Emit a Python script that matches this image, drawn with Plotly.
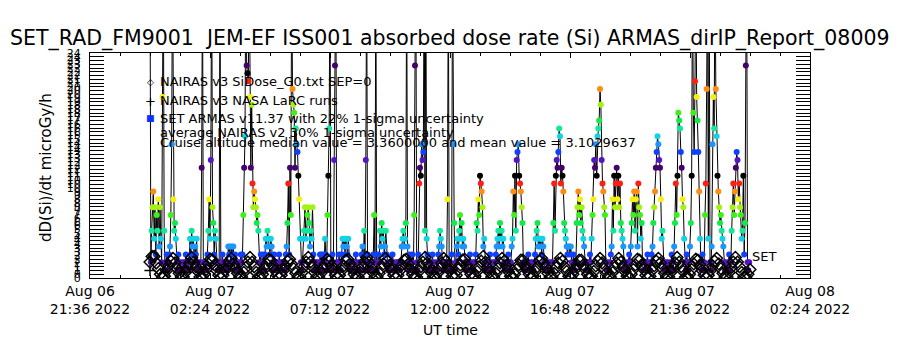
import pandas as pd
import plotly.graph_objects as go

# ---------------- data ----------------
series_start = "2022-08-07 00:00"

# SET ARMAS dose-rate readings in counts of 0.84 microGy/h, one every 2 min (30 per hour)
armas_step_min = 2
dose_quantum = 0.84
armas_counts = [
    40, 2, 6, 9, 11, 5, 9, 3, 8, 6, 10, 4, 9, 5, 2, 23, 40, 6, 1, 2, 3, 1, 2, 3, 4, 8, 17, 40, 10, 6,      # 00h
    7, 5, 2, 1, 3, 2, 1, 2, 1, 1, 2, 1, 2, 3, 1, 2, 1, 2, 5, 3, 6, 4, 5, 2, 4, 3, 5, 1, 2, 1,              # 01h
    1, 2, 14, 40, 1, 2, 1, 2, 1, 3, 6, 10, 5, 15, 40, 9, 7, 3, 6, 5, 2, 1, 1, 2, 40, 1, 2, 3, 1, 2,        # 02h
    1, 2, 1, 2, 4, 3, 4, 2, 4, 3, 4, 1, 3, 2, 1, 2, 1, 2, 1, 3, 2, 3, 8, 14, 18, 40, 27, 26, 25, 40,       # 03h
    23, 14, 22, 12, 9, 11, 10, 9, 7, 8, 6, 2, 1, 3, 1, 2, 3, 1, 3, 5, 4, 6, 5, 4, 3, 5, 4, 2, 1, 3,        # 04h
    1, 2, 1, 2, 1, 3, 2, 1, 2, 1, 1, 1, 2, 3, 4, 7, 12, 3, 14, 8, 40, 24, 22, 21, 14, 19, 17, 16, 13, 10,  # 05h
    5, 2, 1, 2, 5, 6, 9, 5, 6, 8, 9, 7, 4, 6, 5, 9, 3, 1, 2, 1, 2, 1, 2, 1, 3, 2, 3, 1, 3, 2,              # 06h
    5, 3, 1, 8, 13, 19, 40, 2, 1, 3, 1, 15, 27, 40, 2, 1, 2, 3, 2, 1, 3, 5, 4, 5, 3, 5, 4, 3, 5, 2,        # 07h
    1, 2, 1, 1, 2, 1, 2, 3, 1, 2, 1, 1, 2, 2, 3, 4, 1, 6, 2, 15, 40, 3, 1, 2, 1, 2, 1, 2, 3, 8,            # 08h
    2, 40, 1, 2, 3, 2, 6, 4, 7, 5, 6, 3, 4, 6, 3, 2, 1, 1, 2, 1, 2, 3, 2, 1, 1, 2, 1, 2, 1, 1,             # 09h
    1, 2, 4, 5, 6, 4, 5, 7, 40, 4, 2, 1, 3, 1, 2, 3, 1, 8, 27, 40, 2, 1, 3, 12, 14, 13, 17, 15, 16, 40,    # 10h
    6, 40, 5, 3, 1, 2, 1, 1, 2, 3, 1, 2, 1, 1, 2, 1, 3, 4, 6, 5, 4, 2, 1, 1, 2, 1, 2, 10, 40, 1,           # 11h
    2, 1, 3, 40, 17, 7, 1, 2, 4, 5, 3, 6, 8, 5, 7, 4, 5, 4, 2, 1, 1, 2, 1, 2, 3, 1, 2, 1, 1, 2,            # 12h
    2, 3, 7, 6, 10, 8, 13, 12, 11, 9, 4, 5, 2, 1, 1, 2, 1, 2, 3, 1, 2, 1, 1, 2, 2, 3, 4, 5, 6, 4,          # 13h
    7, 5, 6, 4, 5, 2, 1, 1, 2, 1, 3, 2, 1, 2, 4, 5, 11, 8, 13, 6, 15, 16, 17, 13, 12, 11, 9, 7, 2, 1,      # 14h
    1, 2, 1, 2, 3, 1, 2, 1, 1, 2, 1, 2, 3, 5, 6, 7, 4, 5, 4, 5, 3, 5, 4, 2, 1, 1, 2, 1, 2, 1,              # 15h
    1, 2, 1, 2, 7, 12, 6, 13, 15, 14, 16, 19, 18, 12, 14, 13, 11, 7, 6, 5, 4, 3, 4, 4, 3, 4, 2, 1, 3, 2,   # 16h
    1, 2, 7, 9, 11, 8, 10, 7, 9, 6, 5, 4, 2, 1, 1, 2, 1, 2, 3, 2, 5, 8, 10, 15, 14, 17, 13, 18, 19, 20,    # 17h
    24, 22, 15, 12, 11, 9, 8, 2, 1, 2, 1, 1, 2, 3, 4, 10, 6, 13, 9, 12, 14, 10, 13, 9, 12, 7, 6, 5, 4, 2,  # 18h
    1, 1, 2, 1, 2, 3, 2, 4, 7, 10, 8, 11, 6, 10, 11, 4, 12, 9, 8, 5, 7, 2, 1, 1, 2, 1, 2, 3, 1, 2,         # 19h
    1, 2, 3, 4, 7, 9, 11, 14, 16, 18, 17, 15, 14, 10, 5, 6, 2, 1, 1, 2, 1, 2, 1, 1, 2, 1, 3, 2, 1, 4,      # 20h
    7, 12, 8, 13, 21, 20, 19, 16, 14, 10, 9, 5, 2, 1, 3, 2, 1, 2, 4, 7, 13, 40, 21, 16, 25, 40, 23, 20, 16, 11,  # 21h
    5, 2, 1, 3, 1, 2, 8, 12, 24, 40, 5, 40, 2, 1, 4, 17, 23, 19, 40, 24, 18, 13, 11, 9, 7, 8, 6, 5, 4, 2,  # 22h
    1, 2, 1, 1, 2, 3, 1, 2, 6, 9, 12, 8, 11, 14, 16, 15, 10, 12, 9, 8, 5, 6, 13, 3, 7, 27, 40, 2, 1, 2,    # 23h
]

# NAIRAS v3 model dose rate (microGy/h), one every 5 min (12 per hour)
nairas_step_min = 5
nairas_dose = [
    1.7, 2.3, 2.3, 1.6, 1.0, 0.4, 0.1, 0.2, 0.8, 1.3, 1.8, 2.1,
    1.6, 1.0, 0.5, 0.1, 0.1, 0.6, 1.1, 1.6, 2.2, 1.7, 1.2, 0.7,
    0.1, 0.1, 0.4, 0.9, 1.5, 2.0, 1.9, 1.4, 0.8, 0.3, 0.1, 0.3,
    0.8, 1.3, 1.8, 2.1, 1.5, 1.0, 0.5, 0.1, 0.1, 0.6, 1.1, 1.7,
    2.2, 1.7, 1.2, 0.6, 0.1, 0.1, 0.4, 1.0, 1.5, 2.0, 1.9, 1.3,
    0.8, 0.3, 0.1, 0.3, 0.8, 1.3, 1.8, 2.0, 1.5, 1.0, 0.5, 0.1,
    0.1, 0.6, 1.2, 1.7, 2.2, 1.7, 1.2, 0.6, 0.1, 0.1, 0.5, 1.0,
    1.5, 2.0, 1.8, 1.3, 0.8, 0.3, 0.1, 0.3, 0.8, 1.3, 1.9, 2.0,
    1.5, 1.0, 0.4, 0.1, 0.1, 0.6, 1.2, 1.7, 2.2, 1.7, 1.1, 0.6,
    0.1, 0.1, 0.5, 1.0, 1.5, 2.1, 1.8, 1.3, 0.8, 0.3, 0.1, 0.3,
    0.8, 1.4, 1.9, 2.0, 1.5, 0.9, 0.4, 0.1, 0.1, 0.7, 1.2, 1.7,
    2.2, 1.6, 1.1, 0.6, 0.1, 0.1, 0.5, 1.0, 1.6, 2.1, 1.8, 1.3,
    0.8, 0.2, 0.1, 0.3, 0.9, 1.4, 1.9, 2.0, 1.4, 0.9, 0.4, 0.1,
    0.2, 0.7, 1.2, 1.8, 2.3, 1.7, 1.1, 0.6, 0.1, 0.1, 0.5, 1.0,
    1.6, 2.1, 1.8, 1.3, 0.7, 0.2, 0.1, 0.4, 0.9, 1.4, 1.9, 1.9,
    1.4, 0.9, 0.4, 0.1, 0.2, 0.7, 1.2, 1.8, 2.1, 1.6, 1.1, 0.5,
    0.1, 0.1, 0.5, 1.1, 1.6, 2.1, 1.8, 1.2, 0.7, 0.2, 0.1, 0.4,
    0.9, 1.4, 1.9, 1.9, 1.4, 0.9, 0.4, 0.1, 0.2, 0.7, 1.3, 1.8,
    2.1, 1.6, 1.0, 0.5, 0.1, 0.1, 0.6, 1.1, 1.6, 2.1, 1.7, 1.2,
    0.7, 0.2, 0.1, 0.4, 0.9, 1.4, 2.0, 1.9, 1.4, 0.9, 0.3, 0.1,
    0.2, 0.8, 1.3, 1.8, 2.1, 1.6, 1.0, 0.5, 0.1, 0.1, 0.6, 1.1,
    1.6, 2.2, 1.7, 1.2, 0.7, 0.1, 0.1, 0.4, 0.9, 1.5, 2.0, 1.9,
    1.4, 0.8, 0.3, 0.1, 0.3, 0.8, 1.3, 1.8, 2.1, 1.5, 1.0, 0.5,
    0.1, 0.1, 0.6, 1.1, 1.7, 2.2, 1.7, 1.2, 0.6, 0.1, 0.1, 0.4,
    0.9,
]

# NAIRAS v3 NASA LaRC runs
larc_times = ["2022-08-07 00:00"]
larc_dose = [0.8]

# axes
x_range = ["2022-08-06 21:36", "2022-08-08 02:24"]
xtick_vals = ["2022-08-06 21:36", "2022-08-07 02:24", "2022-08-07 07:12", "2022-08-07 12:00",
              "2022-08-07 16:48", "2022-08-07 21:36", "2022-08-08 02:24"]
xtick_text = ["Aug 06<br>21:36 2022", "Aug 07<br>02:24 2022", "Aug 07<br>07:12 2022",
              "Aug 07<br>12:00 2022", "Aug 07<br>16:48 2022", "Aug 07<br>21:36 2022",
              "Aug 08<br>02:24 2022"]
y_range = [0, 24]
ytick_step = 0.4
ytick_count = 61

# colour cycle used for the ARMAS counts (count modulo 13)
level_palette = ["#000000", "#46006c", "#5414c8", "#1040ff", "#1c96ff", "#14d2e6",
                 "#14e69a", "#14e84a", "#3ef01a", "#a6f014", "#f2f014", "#ff8c14", "#ff1e14"]

FONT = "DejaVu Sans"

# ---------------- build ----------------
armas_t = pd.date_range(series_start, periods=len(armas_counts), freq=f"{armas_step_min}min")
armas_y = [c * dose_quantum for c in armas_counts]
armas_col = [level_palette[c % 13] for c in armas_counts]
nairas_t = pd.date_range(series_start, periods=len(nairas_dose), freq=f"{nairas_step_min}min")

ytick_vals = [round(i * ytick_step, 2) for i in range(ytick_count)]
ytick_text = [str(int(round(v))) for v in ytick_vals]

L, R, T, B = 90, 90, 53, 72
W, H = 900, 350
PW, PH = W - L - R, H - T - B


def px(x):
    return (x - L) / PW


def py(y):
    return (H - B - y) / PH


fig = go.Figure()
fig.add_trace(go.Scatter(
    x=armas_t, y=armas_y, mode="lines+markers",
    line=dict(color="black", width=1),
    marker=dict(size=6, color=armas_col, line=dict(width=0)),
    hoverinfo="skip"))
fig.add_trace(go.Scatter(
    x=nairas_t, y=nairas_dose, mode="markers",
    marker=dict(symbol="diamond-open", size=9, color="black", line=dict(width=1.5, color="black")),
    hoverinfo="skip"))
fig.add_trace(go.Scatter(
    x=pd.to_datetime(larc_times), y=larc_dose, mode="markers",
    marker=dict(symbol="cross-thin-open", size=8, color="black", line=dict(width=1.5, color="black")),
    hoverinfo="skip"))

annotations = []


def text(x, y, s, size, anchor="left", angle=0, color="black"):
    annotations.append(dict(x=px(x), y=py(y), xref="paper", yref="paper", text=s,
                            showarrow=False, xanchor=anchor, yanchor="middle",
                            textangle=angle, font=dict(family=FONT, size=size, color=color)))


text(450, 38, "SET_RAD_FM9001\u00a0 JEM-EF ISS001 absorbed dose rate (Si) ARMAS_dirIP_Report_08009",
     20.5, anchor="center")
text(46, 168, "dD(Si)/dt microGy/h", 15, anchor="center", angle=-90)
text(450, 330, "UT time", 14, anchor="center")
text(150, 82, "◇", 9, anchor="center")
text(158, 81, "NAIRAS v3 SiDose_G0.txt SEP=0", 13)
text(150, 101, "+", 13, anchor="center")
text(158, 100, "NAIRAS v3 NASA LaRC runs", 13)
text(150, 118, "■", 9, anchor="center", color="#1030ff")
text(158, 118, "SET ARMAS v11.37 with 22% 1-sigma uncertainty", 13)
text(158, 132, "average NAIRAS v2 30% 1-sigma uncertainty", 13)
text(158, 142, "Cruise altitude median value = 3.3600000 and mean value = 3.1029637", 13)
text(750, 256, "SET", 13)

fig.update_layout(
    width=W, height=H, margin=dict(l=L, r=R, t=T, b=B),
    paper_bgcolor="white", plot_bgcolor="white", showlegend=False,
    annotations=annotations,
    xaxis=dict(type="date", range=x_range, tickvals=xtick_vals, ticktext=xtick_text,
               ticks="inside", ticklen=5, tickcolor="black", tickwidth=1,
               showline=True, linecolor="black", linewidth=1, mirror="ticks",
               showgrid=False, zeroline=False,
               tickfont=dict(family=FONT, size=14, color="black"),
               minor=dict(ticks="inside", ticklen=3, tickcolor="black",
                          dtick=4320000, tick0=x_range[0], showgrid=False)),
    yaxis=dict(range=y_range, tickvals=ytick_vals, ticktext=ytick_text,
               ticks="inside", ticklen=14, tickcolor="black", tickwidth=1,
               showline=True, linecolor="black", linewidth=1, mirror="ticks",
               showgrid=False, zeroline=False, ticklabelstandoff=6,
               tickfont=dict(family=FONT, size=11, color="black")),
)

fig.write_html("out.html")
